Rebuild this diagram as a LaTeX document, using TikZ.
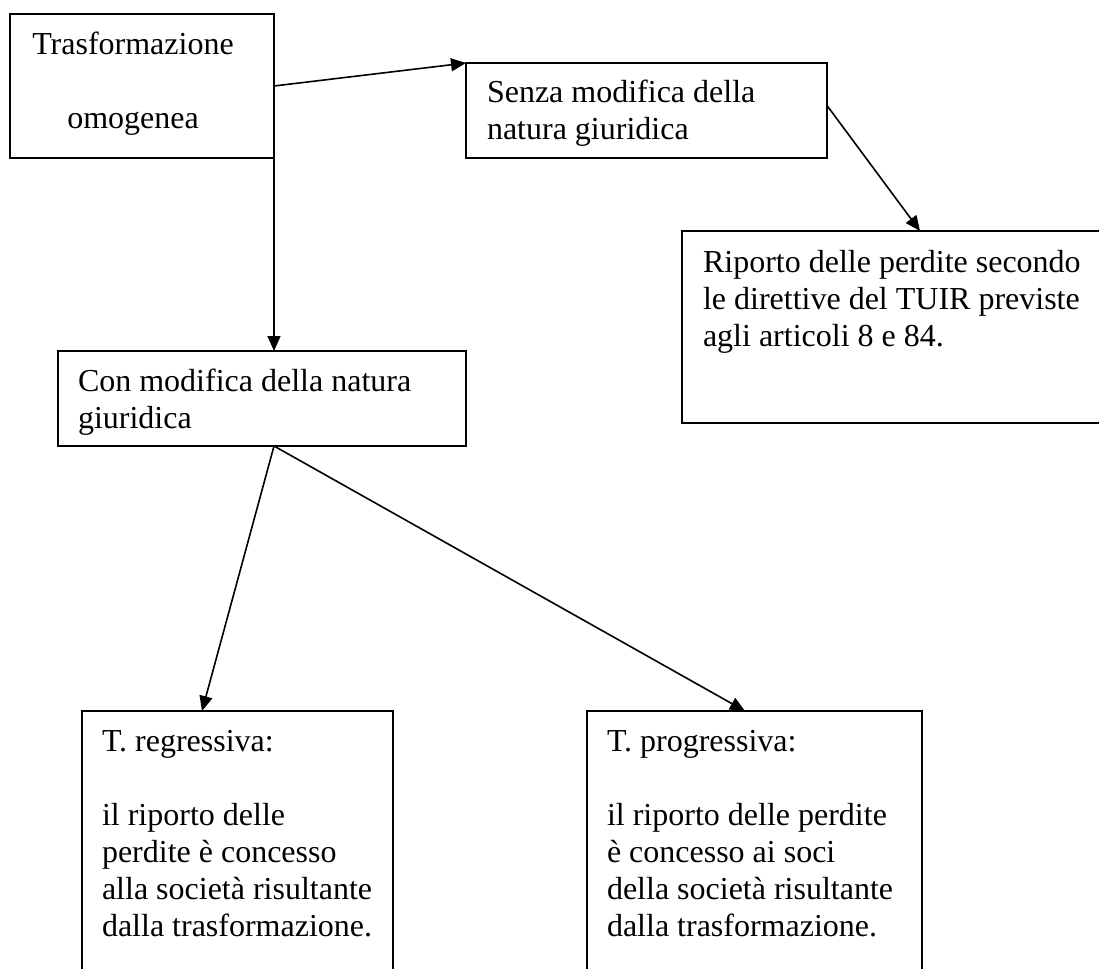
\documentclass[tikz,border=0pt]{standalone}
\usepackage{fontspec}
\setmainfont{Liberation Serif}
\usetikzlibrary{arrows.meta,calc}
\begin{document}
\begin{tikzpicture}[x=1pt,y=-1pt,
  box/.style={draw=black, line width=2.2pt, rectangle, inner sep=0pt, outer sep=0pt},
  txt/.style={inner sep=0pt, outer sep=0pt, align=left, font=\fontsize{32}{37}\selectfont},
  arr/.style={draw=black, line width=1.6pt, -{Triangle[length=15pt,width=13pt]}}]
\useasboundingbox (0,0) rectangle (1099,968);
\clip (0,0) rectangle (1099,968);
\fill[white] (0,0) rectangle (1099,968);
% boxes
\node[box, minimum width=264pt, minimum height=144pt] (b1) at (142,86) {};
\node[box, minimum width=361pt, minimum height=95pt] (b2) at (646.5,110.5) {};
\node[box, minimum width=428pt, minimum height=192pt] (b3) at (896,327) {};
\node[box, minimum width=408pt, minimum height=95pt] (b4) at (262,398.5) {};
\node[box, minimum width=311pt, minimum height=279pt] (b5) at (237.5,850.5) {};
\node[box, minimum width=335pt, minimum height=279pt] (b6) at (754.5,850.5) {};
% texts (base anchor = baseline of the last line)
\node[txt, align=center, anchor=base] (t1) at (133,129) {Trasformazione\\[37pt]omogenea};
\node[txt, anchor=base west] (t2) at (487,140) {Senza modifica della\\natura giuridica};
\node[txt, anchor=base west] (t3) at (703,346) {Riporto delle perdite secondo\\le direttive del TUIR previste\\agli articoli 8 e 84.};
\node[txt, anchor=base west] (t4) at (78,428) {Con modifica della natura\\giuridica};
\node[txt, anchor=base west] (t5) at (102,936) {T. regressiva:\\[37pt]il riporto delle\\perdite è concesso\\alla società risultante\\dalla trasformazione.};
\node[txt, anchor=base west] (t6) at (607,936) {T. progressiva:\\[37pt]il riporto delle perdite\\è concesso ai soci\\della società risultante\\dalla trasformazione.};
% connectors
\coordinate (split) at (b1.south east |- b4.south);
\draw[arr] (b1.east) -- (b2.north west);
\draw[arr] ($(b2.east)+(0,-5)$) -- ($(b3.north west)+(238,0)$);
\draw[arr] (b1.south east) -- (b1.south east |- b4.north);
\draw[arr] (split) -- ($(b5.north west)+(120,0)$);
\draw[arr] (split) -- ($(b6.north west)+(158,0)$);
\end{tikzpicture}
\end{document}
